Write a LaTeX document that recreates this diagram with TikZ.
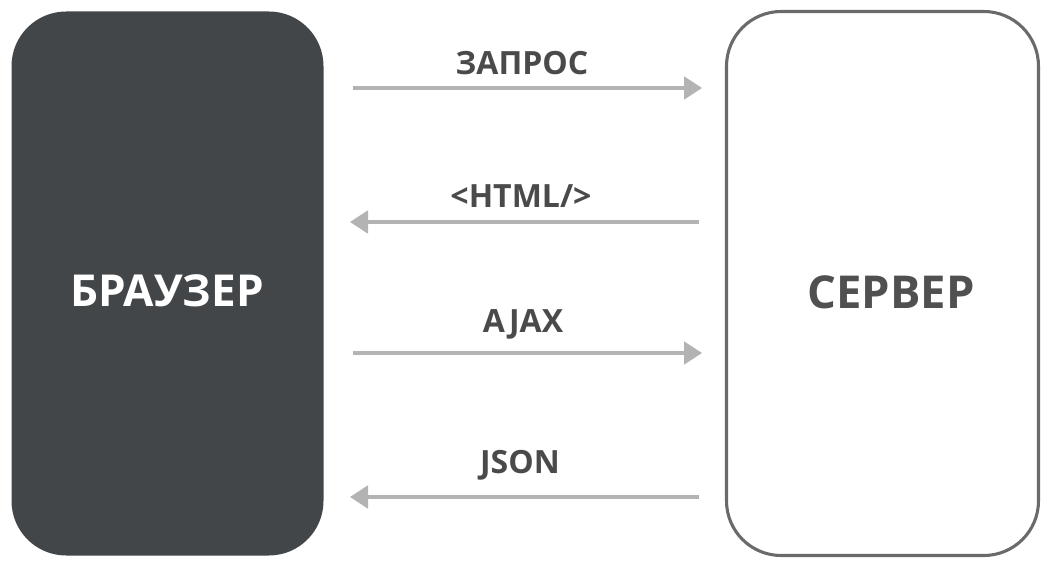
\documentclass[tikz,border=0pt]{standalone}
\usepackage{fontspec}
\setmainfont{Open Sans}
\usetikzlibrary{arrows.meta}
\definecolor{darkbox}{HTML}{434649}
\definecolor{srvline}{HTML}{6A6A6A}
\definecolor{arrowgray}{HTML}{B3B3B3}
\definecolor{labelgray}{HTML}{4A4A4A}
\definecolor{srvtext}{HTML}{505050}
\tikzset{
  box/.style={rectangle, rounded corners=41pt, minimum width=234pt, minimum height=408pt, inner sep=0pt},
  boxtext/.style={anchor=base, inner sep=0pt, font=\fontsize{33}{38}\selectfont\bfseries},
  msg/.style={draw=arrowgray, line width=2.3pt, -{Triangle[length=13.5pt,width=17pt]}},
  msglabel/.style={text=labelgray, font=\fontsize{24}{28}\selectfont\bfseries, inner sep=0pt},
}
\begin{document}
\begin{tikzpicture}[x=0.75pt,y=-0.75pt]
\useasboundingbox (0,0) rectangle (1051,563);
\node[box, fill=darkbox] (browser) at (167.5,283.5) {};
\node[box, draw=srvline, line width=2.3pt, fill=white] (server) at (882.5,283.5) {};
\node[boxtext, text=white] (btext) at (167,307) {БРАУЗЕР};
\node[boxtext, text=srvtext, font=\fontsize{34}{38}\selectfont\bfseries] (stext) at (891,309) {СЕРВЕР};
% arrow end points
\coordinate (a1s) at (353,88);  \coordinate (a1e) at (702,88);
\coordinate (a2s) at (699,222); \coordinate (a2e) at (350,222);
\coordinate (a3s) at (353,353); \coordinate (a3e) at (702,353);
\coordinate (a4s) at (699,497); \coordinate (a4e) at (350,497);
\draw[msg] (a1s) -- (a1e);
\draw[msg] (a2s) -- (a2e);
\draw[msg] (a3s) -- (a3e);
\draw[msg] (a4s) -- (a4e);
\node[msglabel] (l1) at (522,63) {ЗАПРОС};
\node[msglabel] (l2) at (521,196) {<HTML/>};
\node[msglabel] (l3) at (523,324) {AJAX};
\node[msglabel] (l4) at (520,465) {JSON};
\end{tikzpicture}
\end{document}
